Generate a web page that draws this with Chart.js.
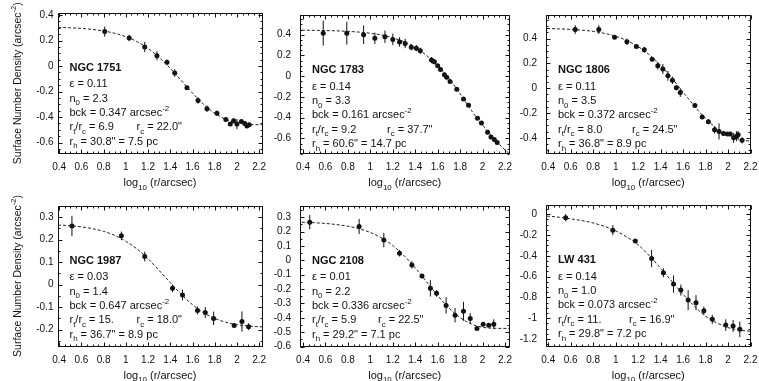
<!DOCTYPE html>
<html>
<head>
<meta charset="utf-8">
<script src="https://cdn.jsdelivr.net/npm/chart.js@4.4.1/dist/chart.umd.min.js"></script>
<style>
  html, body { margin: 0; padding: 0; background: #fff; overflow: hidden; }
  #wrap { position: relative; width: 759px; height: 381px; }
  #wrap canvas { position: absolute; }
</style>
</head>
<body>
<div id="wrap"></div>
<script>
/* ── DATA ─────────────────────────────────────────────────── */
const XTICKS = [0.4, 0.6, 0.8, 1, 1.2, 1.4, 1.6, 1.8, 2, 2.2];
const FIT_X  = [0.3, 0.4, 0.5, 0.6, 0.7, 0.8, 0.9, 1.0, 1.1, 1.2, 1.3, 1.4, 1.5, 1.6, 1.7, 1.8, 1.9, 2.0, 2.1, 2.2, 2.3];

const NGC1751_X   = [0.81, 1.03, 1.17, 1.28, 1.37, 1.44, 1.55, 1.65, 1.73, 1.82, 1.90, 1.94, 1.97, 2.00, 2.04, 2.07, 2.09, 2.11];
const NGC1751_Y   = [0.27, 0.22, 0.15, 0.08, 0.03, -0.055, -0.17, -0.27, -0.335, -0.37, -0.42, -0.455, -0.43, -0.455, -0.435, -0.45, -0.47, -0.46];
const NGC1751_ERR = [0.04, 0.025, 0.04, 0.035, 0.02, 0.03, 0.01, 0.025, 0.025, 0.02, 0.015, 0.015, 0.02, 0.04, 0.015, 0.015, 0.015, 0.01];
const NGC1751_FIT = [0.305, 0.303, 0.300, 0.295, 0.287, 0.275, 0.257, 0.230, 0.192, 0.138, 0.067, -0.019, -0.115, -0.212, -0.300, -0.370, -0.418, -0.445, -0.457, -0.460, -0.460];
const NGC1751_YT  = [-0.6, -0.4, -0.2, 0, 0.2, 0.4];

const NGC1783_X   = [0.58, 0.79, 0.94, 1.04, 1.13, 1.20, 1.26, 1.31, 1.365, 1.41, 1.445, 1.545, 1.57, 1.60, 1.625, 1.66, 1.68, 1.71, 1.77, 1.83, 1.875, 1.955, 1.99, 2.045, 2.075, 2.105, 2.13];
const NGC1783_Y   = [0.415, 0.415, 0.40, 0.365, 0.38, 0.355, 0.33, 0.315, 0.28, 0.27, 0.245, 0.155, 0.14, 0.10, 0.065, 0.015, -0.01, -0.05, -0.125, -0.22, -0.28, -0.405, -0.45, -0.54, -0.585, -0.61, -0.64];
const NGC1783_ERR = [0.12, 0.11, 0.09, 0.055, 0.06, 0.055, 0.045, 0.045, 0.03, 0.03, 0.03, 0.03, 0.025, 0.02, 0.02, 0.02, 0.015, 0.015, 0.015, 0.015, 0.015, 0.015, 0.015, 0.015, 0.015, 0.015, 0.015];
const NGC1783_FIT = [0.444, 0.443, 0.442, 0.440, 0.437, 0.432, 0.425, 0.414, 0.397, 0.370, 0.332, 0.277, 0.200, 0.100, -0.020, -0.170, -0.330, -0.470, -0.600, -0.710, -0.800];
const NGC1783_YT  = [-0.6, -0.4, -0.2, 0, 0.2, 0.4];

const NGC1806_X   = [0.64, 0.85, 0.99, 1.10, 1.185, 1.255, 1.325, 1.375, 1.42, 1.465, 1.505, 1.54, 1.575, 1.705, 1.77, 1.825, 1.88, 1.92, 1.96, 1.995, 2.02, 2.05, 2.075, 2.09, 2.125];
const NGC1806_Y   = [0.473, 0.473, 0.41, 0.374, 0.337, 0.309, 0.233, 0.181, 0.155, 0.10, 0.064, 0.004, -0.035, -0.139, -0.231, -0.27, -0.335, -0.348, -0.364, -0.369, -0.369, -0.40, -0.387, -0.374, -0.42];
const NGC1806_ERR = [0.035, 0.035, 0.01, 0.025, 0.01, 0.025, 0.012, 0.03, 0.04, 0.04, 0.03, 0.02, 0.035, 0.02, 0.015, 0.02, 0.03, 0.065, 0.02, 0.015, 0.015, 0.04, 0.04, 0.03, 0.025];
const NGC1806_FIT = [0.483, 0.481, 0.478, 0.474, 0.468, 0.458, 0.442, 0.419, 0.384, 0.335, 0.269, 0.184, 0.082, -0.031, -0.143, -0.244, -0.324, -0.380, -0.412, -0.426, -0.430];
const NGC1806_YT  = [-0.4, -0.2, 0, 0.2, 0.4];

const NGC1987_X   = [0.515, 0.96, 1.17, 1.42, 1.51, 1.645, 1.715, 1.79, 1.975, 2.045, 2.105];
const NGC1987_Y   = [0.261, 0.217, 0.125, -0.016, -0.046, -0.115, -0.124, -0.15, -0.182, -0.164, -0.187];
const NGC1987_ERR = [0.045, 0.019, 0.022, 0.017, 0.024, 0.017, 0.024, 0.03, 0.006, 0.045, 0.015];
const NGC1987_FIT = [0.267, 0.265, 0.262, 0.257, 0.249, 0.237, 0.219, 0.193, 0.159, 0.115, 0.063, 0.009, -0.044, -0.089, -0.125, -0.150, -0.167, -0.178, -0.184, -0.187, -0.189];
const NGC1987_YT  = [-0.2, -0.1, 0, 0.1, 0.2, 0.3];

const NGC2108_X   = [0.46, 0.90, 1.12, 1.26, 1.37, 1.46, 1.535, 1.59, 1.675, 1.755, 1.83, 1.89, 1.95, 2.005, 2.055, 2.10];
const NGC2108_Y   = [0.266, 0.236, 0.141, 0.05, -0.032, -0.109, -0.195, -0.23, -0.314, -0.382, -0.355, -0.405, -0.475, -0.445, -0.452, -0.445];
const NGC2108_ERR = [0.05, 0.053, 0.05, 0.023, 0.025, 0.01, 0.057, 0.023, 0.057, 0.05, 0.066, 0.037, 0.008, 0.015, 0.01, 0.035];
const NGC2108_FIT = [0.267, 0.265, 0.262, 0.257, 0.249, 0.238, 0.220, 0.194, 0.156, 0.103, 0.033, -0.053, -0.148, -0.245, -0.332, -0.399, -0.443, -0.466, -0.473, -0.474, -0.474];
const NGC2108_YT  = [-0.6, -0.5, -0.4, -0.3, -0.2, -0.1, 0, 0.1, 0.2, 0.3];

const LW431_X   = [0.555, 0.975, 1.175, 1.32, 1.425, 1.515, 1.58, 1.645, 1.715, 1.785, 1.86, 1.98, 2.045, 2.105];
const LW431_Y   = [-0.035, -0.154, -0.259, -0.426, -0.563, -0.672, -0.73, -0.826, -0.851, -0.928, -1.011, -1.066, -1.075, -1.107];
const LW431_ERR = [0.035, 0.048, 0.01, 0.083, 0.043, 0.083, 0.053, 0.096, 0.072, 0.04, 0.043, 0.056, 0.058, 0.075];
const LW431_FIT = [-0.015, -0.020, -0.030, -0.045, -0.062, -0.085, -0.117, -0.160, -0.220, -0.295, -0.400, -0.520, -0.645, -0.770, -0.885, -0.980, -1.045, -1.090, -1.115, -1.125, -1.130];
const LW431_YT  = [-1.2, -1, -0.8, -0.6, -0.4, -0.2, 0];

/* fit parameters printed in each panel */
const NAMES = ['NGC 1751', 'NGC 1783', 'NGC 1806', 'NGC 1987', 'NGC 2108', 'LW 431'];
const EPS   = ['0.11', '0.14', '0.11', '0.03', '0.01', '0.14'];
const N0    = ['2.3', '3.3', '3.5', '1.4', '2.2', '1.0'];
const BCK   = ['0.347', '0.161', '0.372', '0.647', '0.336', '0.073'];
const RTRC  = ['6.9', '9.2', '8.0', '15.', '5.9', '11.'];
const RC    = ['22.0"', '37.7"', '24.5"', '18.0"', '22.5"', '16.9"'];
const RH    = ['30.8" = 7.5 pc', '60.6" = 14.7 pc', '36.8" = 8.9 pc', '36.7" = 8.9 pc', '29.2" = 7.1 pc', '29.8" = 7.2 pc'];

/* ── LAYOUT ───────────────────────────────────────────────── */
const FONT = "'Liberation Sans', Arial, Helvetica, sans-serif";
const INK = '#111';

const PANELS = [
  { x: NGC1751_X, y: NGC1751_Y, err: NGC1751_ERR, fit: NGC1751_FIT, yt: NGC1751_YT,
    xr: [0.385, 2.23], yr: [-0.69, 0.42], box: { left: 0, top: 0, w: 280, h: 190 },
    yW: 57.5, padR: 17.5, padT: 12.5, xH: 36, lblPad: 4, rcOff: 79, ytitle: true },
  { x: NGC1783_X, y: NGC1783_Y, err: NGC1783_ERR, fit: NGC1783_FIT, yt: NGC1783_YT,
    xr: [0.373, 2.24], yr: [-0.75, 0.59], box: { left: 265, top: 0, w: 260, h: 190 },
    yW: 35, padR: 15.5, padT: 10, xH: 36, lblPad: 9, rcOff: 87 },
  { x: NGC1806_X, y: NGC1806_Y, err: NGC1806_ERR, fit: NGC1806_FIT, yt: NGC1806_YT,
    xr: [0.38, 2.2], yr: [-0.53, 0.59], box: { left: 515, top: 0, w: 250, h: 190 },
    yW: 31, padR: 14.5, padT: 10, xH: 36, lblPad: 9, rcOff: 86 },
  { x: NGC1987_X, y: NGC1987_Y, err: NGC1987_ERR, fit: NGC1987_FIT, yt: NGC1987_YT,
    xr: [0.385, 2.23], yr: [-0.275, 0.352], box: { left: 0, top: 190, w: 280, h: 191 },
    yW: 57.5, padR: 17.5, padT: 15.5, xH: 34.5, lblPad: 4, rcOff: 79, ytitle: true },
  { x: NGC2108_X, y: NGC2108_Y, err: NGC2108_ERR, fit: NGC2108_FIT, yt: NGC2108_YT,
    xr: [0.373, 2.24], yr: [-0.6, 0.382], box: { left: 265, top: 190, w: 260, h: 191 },
    yW: 35, padR: 15.5, padT: 15.5, xH: 34.5, lblPad: 9, rcOff: 78 },
  { x: LW431_X, y: LW431_Y, err: LW431_ERR, fit: LW431_FIT, yt: LW431_YT,
    xr: [0.38, 2.2], yr: [-1.272, 0.088], box: { left: 515, top: 190, w: 250, h: 191 },
    yW: 31, padR: 14.5, padT: 15, xH: 34.5, lblPad: 9, rcOff: 83 }
];

/* ── TEXT HELPERS ─────────────────────────────────────────── */
// parts: [text, 'sub' | 'sup' | undefined]
function richWidth(ctx, parts, size, weight) {
  let w = 0;
  parts.forEach(([t, k]) => {
    ctx.font = `${weight || ''} ${k ? size * 0.72 : size}px ${FONT}`;
    w += ctx.measureText(t).width;
  });
  return w;
}
function rich(ctx, parts, x, y, size, weight) {
  let cx = x;
  parts.forEach(([t, k]) => {
    const fs = k ? size * 0.72 : size;
    ctx.font = `${weight || ''} ${fs}px ${FONT}`;
    const dy = k === 'sub' ? size * 0.32 : k === 'sup' ? -size * 0.42 : 0;
    ctx.fillText(t, cx, y + dy);
    cx += ctx.measureText(t).width;
  });
  return cx;
}

/* ── PANEL PLUGIN: error bars, frame, inward ticks, labels ── */
function panelPlugin(p, i) {
  return {
    id: 'panel' + i,
    beforeDatasetsDraw(chart) {
      const ctx = chart.ctx, xs = chart.scales.x, ys = chart.scales.y;
      ctx.save();
      ctx.strokeStyle = INK;
      ctx.lineWidth = 1;
      p.x.forEach((xv, j) => {
        const px = xs.getPixelForValue(xv);
        ctx.beginPath();
        ctx.moveTo(px, ys.getPixelForValue(p.y[j] + p.err[j]));
        ctx.lineTo(px, ys.getPixelForValue(p.y[j] - p.err[j]));
        ctx.stroke();
      });
      ctx.restore();
    },
    afterDraw(chart) {
      const ctx = chart.ctx, a = chart.chartArea;
      const xs = chart.scales.x, ys = chart.scales.y;
      const L = Math.round(a.left) + 0.5, R = Math.round(a.right) - 0.5;
      const T = Math.round(a.top) + 0.5, B = Math.round(a.bottom) - 0.5;
      ctx.save();
      ctx.strokeStyle = INK;
      ctx.lineWidth = 1;
      ctx.strokeRect(L, T, R - L, B - T);

      /* ticks on all four sides, pointing in */
      ctx.beginPath();
      const xtick = (v, len) => {
        const px = Math.round(xs.getPixelForValue(v)) + 0.5;
        ctx.moveTo(px, B); ctx.lineTo(px, B - len);
        ctx.moveTo(px, T); ctx.lineTo(px, T + len);
      };
      const ytick = (v, len) => {
        const py = Math.round(ys.getPixelForValue(v)) + 0.5;
        ctx.moveTo(L, py); ctx.lineTo(L + len, py);
        ctx.moveTo(R, py); ctx.lineTo(R - len, py);
      };
      XTICKS.forEach(v => xtick(v, 4));
      p.yt.forEach(v => ytick(v, 4));
      for (let v = Math.ceil(xs.min / 0.05) * 0.05; v <= xs.max; v += 0.05) {
        if (XTICKS.some(t => Math.abs(t - v) < 1e-6)) continue;
        xtick(v, 2);
      }
      for (let v = Math.ceil(ys.min / 0.05) * 0.05; v <= ys.max; v += 0.05) {
        if (p.yt.some(t => Math.abs(t - v) < 1e-6)) continue;
        ytick(v, 2);
      }
      ctx.stroke();

      /* annotation block */
      ctx.fillStyle = INK;
      ctx.textAlign = 'left';
      ctx.textBaseline = 'alphabetic';
      const tx = a.left + 12, ty = a.top;
      ctx.font = `bold 11px ${FONT}`;
      ctx.fillText(NAMES[i], tx, ty + 58);
      rich(ctx, [['\u03b5 = ' + EPS[i]]], tx, ty + 74.5, 11);
      rich(ctx, [['n'], ['0', 'sub'], [' = ' + N0[i]]], tx, ty + 89, 11);
      rich(ctx, [['bck = ' + BCK[i] + ' arcsec'], ['-2', 'sup']], tx, ty + 103, 11);
      rich(ctx, [['r'], ['t', 'sub'], ['/r'], ['c', 'sub'], [' = ' + RTRC[i]]], tx, ty + 117.5, 11);
      rich(ctx, [['r'], ['c', 'sub'], [' = ' + RC[i]]], a.left + p.rcOff, ty + 117.5, 11);
      rich(ctx, [['r'], ['h', 'sub'], [' = ' + RH[i]]], tx, ty + 132, 11);

      /* x axis title */
      const xt = [['log'], ['10', 'sub'], [' (r/arcsec)']];
      const xw = richWidth(ctx, xt, 11);
      rich(ctx, xt, (a.left + a.right) / 2 - xw / 2, a.bottom + 32, 11);

      /* y axis title, left column only */
      if (p.ytitle) {
        const yt = [['Surface Number Density (arcsec'], ['-2', 'sup'], [')']];
        const yw = richWidth(ctx, yt, 10.5);
        ctx.translate(20.5, (a.top + a.bottom) / 2);
        ctx.rotate(-Math.PI / 2);
        rich(ctx, yt, -yw / 2, 0, 10.5);
      }
      ctx.restore();
    }
  };
}

/* ── BUILD CHARTS ─────────────────────────────────────────── */
Chart.defaults.font.family = FONT;
const wrap = document.getElementById('wrap');
const fmt = v => String(+Number(v).toFixed(2));

PANELS.forEach((p, i) => {
  const cv = document.createElement('canvas');
  cv.width = p.box.w;
  cv.height = p.box.h;
  cv.style.left = p.box.left + 'px';
  cv.style.top = p.box.top + 'px';
  cv.style.width = p.box.w + 'px';
  cv.style.height = p.box.h + 'px';
  wrap.appendChild(cv);

  new Chart(cv.getContext('2d'), {
    type: 'scatter',
    data: {
      datasets: [
        {
          type: 'line',
          data: FIT_X.map((x, j) => ({ x, y: p.fit[j] })),
          borderColor: '#222',
          borderWidth: 1,
          borderDash: [3, 2],
          pointRadius: 0,
          fill: false,
          cubicInterpolationMode: 'monotone'
        },
        {
          data: p.x.map((x, j) => ({ x, y: p.y[j] })),
          pointRadius: 2.5,
          pointStyle: 'circle',
          backgroundColor: INK,
          borderColor: INK,
          borderWidth: 0
        }
      ]
    },
    options: {
      responsive: false,
      animation: false,
      devicePixelRatio: 1,
      layout: { padding: { left: 0, right: p.padR, top: p.padT, bottom: 0 } },
      plugins: { legend: { display: false }, tooltip: { enabled: false } },
      scales: {
        x: {
          type: 'linear',
          min: p.xr[0], max: p.xr[1],
          grid: { display: false, drawTicks: false },
          border: { display: false },
          ticks: { font: { size: 10 }, color: INK, padding: 7.5, maxRotation: 0, autoSkip: false, callback: fmt },
          afterBuildTicks: s => { s.ticks = XTICKS.map(v => ({ value: v })); },
          afterFit: s => { s.height = p.xH; }
        },
        y: {
          type: 'linear',
          min: p.yr[0], max: p.yr[1],
          grid: { display: false, drawTicks: false },
          border: { display: false },
          ticks: { font: { size: 10 }, color: INK, padding: p.lblPad, autoSkip: false, callback: fmt },
          afterBuildTicks: s => { s.ticks = p.yt.map(v => ({ value: v })); },
          afterFit: s => { s.height = undefined; s.width = p.yW; }
        }
      }
    },
    plugins: [panelPlugin(p, i)]
  });
});
</script>
</body>
</html>
